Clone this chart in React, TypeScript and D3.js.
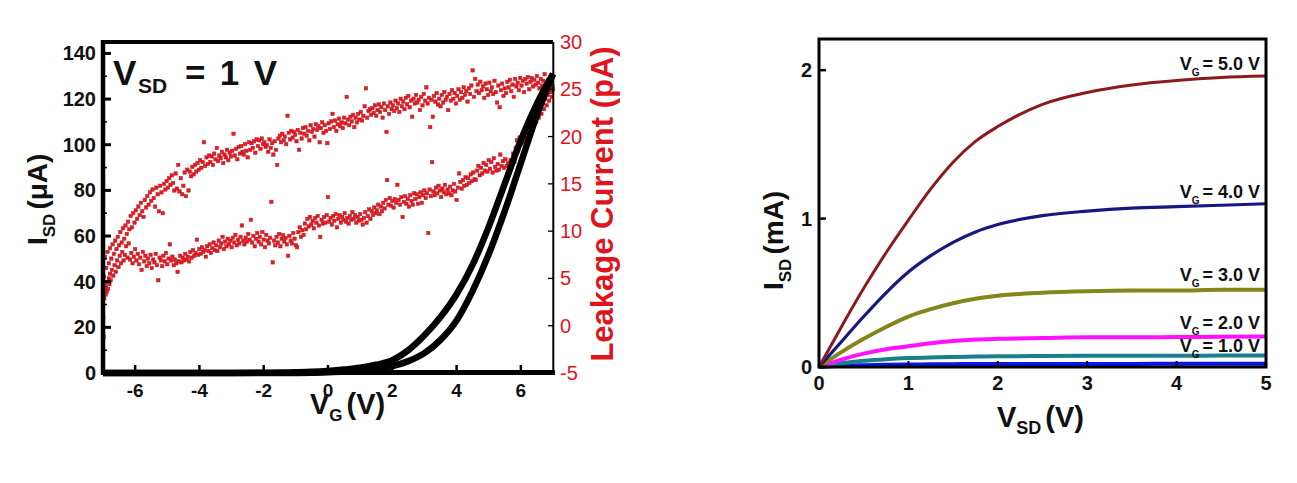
import React from "react";
import * as d3 from "d3";

// ---------- Left panel data ----------
const vgTicks = [-6, -4, -2, 0, 2, 4, 6];
const isdTicks = [0, 20, 40, 60, 80, 100, 120, 140];
const isdMinorTicks = [10, 30, 50, 70, 90, 110, 130];
const leakTicks = [-5, 0, 5, 10, 15, 20, 25, 30];

const vgSweep = [-7, -6, -5, -4, -3, -2, -1, -0.5, 0, 0.5, 1, 1.5, 2, 2.5, 3, 3.5, 4, 4.5, 5, 5.5, 6, 6.5, 7];
const isdForward = [0, 0, 0, 0, 0.05, 0.1, 0.3, 0.5, 0.9, 1.5, 2.3, 3.6, 5.6, 10, 16.5, 24.5, 34.5, 47.5, 64, 83, 102, 118, 131];
const isdReverse = [0, 0, 0, 0, 0, 0, 0.05, 0.1, 0.3, 0.6, 1.1, 1.8, 3, 5.2, 8.7, 14.5, 23, 36, 52, 71, 92, 113, 131];

const leakageUpper: [number, number][] = [
  [-7.0, 6.8], [-6.97, 5.2], [-6.94, 7.3], [-6.9, 6.1], [-6.86, 7.8], [-6.82, 6.6], [-6.78, 8.2], [-6.74, 7.1], [-6.7, 8.6], [-6.66, 7.6],
  [-6.62, 9.0], [-6.58, 8.1], [-6.54, 9.4], [-6.5, 8.5], [-6.46, 9.9], [-6.42, 8.8], [-6.38, 10.3], [-6.34, 9.2], [-6.3, 10.6], [-6.26, 9.7],
  [-6.22, 11.0], [-6.18, 10.2], [-6.14, 11.6], [-6.1, 10.4], [-6.06, 11.9], [-6.02, 10.9], [-5.98, 12.2], [-5.94, 11.3], [-5.9, 12.6], [-5.86, 11.7],
  [-5.82, 13.0], [-5.78, 12.1], [-5.74, 11.5], [-5.7, 13.3], [-5.66, 12.5], [-5.62, 13.7], [-5.58, 12.8], [-5.54, 14.1], [-5.5, 13.2], [-5.46, 14.4],
  [-5.42, 13.5], [-5.38, 12.6], [-5.34, 14.6], [-5.3, 13.9], [-5.26, 12.1], [-5.22, 14.8], [-5.18, 14.1], [-5.14, 11.9], [-5.1, 15.0], [-5.06, 14.4],
  [-5.02, 15.3], [-4.98, 14.6], [-4.94, 15.6], [-4.9, 14.9], [-4.86, 15.9], [-4.82, 15.1], [-4.78, 14.3], [-4.74, 16.1], [-4.7, 14.5], [-4.66, 17.0],
  [-4.62, 14.2], [-4.58, 15.6], [-4.54, 13.9], [-4.5, 14.8], [-4.46, 16.2], [-4.42, 13.7], [-4.38, 16.5], [-4.34, 14.3], [-4.3, 16.3], [-4.26, 15.8],
  [-4.22, 16.8], [-4.18, 16.0], [-4.14, 17.0], [-4.1, 16.3], [-4.06, 17.2], [-4.02, 16.5], [-3.98, 17.5], [-3.94, 16.7], [-3.9, 17.3], [-3.86, 19.4],
  [-3.82, 16.9], [-3.78, 17.8], [-3.74, 17.1], [-3.7, 18.0], [-3.66, 17.3], [-3.62, 17.9], [-3.58, 17.0], [-3.54, 18.2], [-3.5, 17.6], [-3.46, 18.8],
  [-3.42, 17.4], [-3.38, 18.0], [-3.34, 17.7], [-3.3, 18.4], [-3.26, 17.2], [-3.22, 18.1], [-3.18, 17.8], [-3.14, 18.6], [-3.1, 17.5], [-3.06, 18.3],
  [-3.02, 17.9], [-2.98, 18.5], [-2.94, 20.3], [-2.9, 18.0], [-2.86, 18.7], [-2.82, 17.6], [-2.78, 18.9], [-2.74, 18.2], [-2.7, 19.0], [-2.66, 18.4],
  [-2.62, 18.1], [-2.58, 19.2], [-2.54, 18.5], [-2.5, 17.8], [-2.46, 19.4], [-2.42, 18.6], [-2.38, 19.3], [-2.34, 18.8], [-2.3, 19.5], [-2.26, 18.3],
  [-2.22, 19.7], [-2.18, 19.0], [-2.14, 19.6], [-2.1, 18.7], [-2.06, 19.8], [-2.02, 19.2], [-1.98, 19.4], [-1.94, 18.9], [-1.9, 19.1], [-1.86, 18.4],
  [-1.82, 19.7], [-1.78, 18.8], [-1.74, 19.3], [-1.7, 18.1], [-1.66, 19.5], [-1.62, 18.6], [-1.58, 17.0], [-1.54, 19.8], [-1.5, 20.1], [-1.46, 19.4],
  [-1.42, 20.3], [-1.38, 19.6], [-1.34, 20.0], [-1.3, 19.2], [-1.26, 22.2], [-1.22, 20.4], [-1.18, 19.7], [-1.14, 20.6], [-1.1, 19.9], [-1.06, 20.5],
  [-1.02, 20.2], [-0.98, 19.5], [-0.94, 20.7], [-0.9, 18.6], [-0.86, 20.4], [-0.82, 19.8], [-0.78, 20.9], [-0.74, 20.3], [-0.7, 21.0], [-0.66, 20.1],
  [-0.62, 20.6], [-0.58, 19.6], [-0.54, 21.2], [-0.5, 20.5], [-0.46, 20.8], [-0.42, 20.0], [-0.38, 21.3], [-0.34, 20.7], [-0.3, 21.1], [-0.26, 19.4],
  [-0.22, 20.9], [-0.18, 21.5], [-0.14, 20.4], [-0.1, 21.2], [-0.06, 20.6], [-0.02, 19.3], [0.02, 21.4], [0.06, 20.8], [0.1, 21.6], [0.14, 22.4],
  [0.18, 21.0], [0.22, 21.7], [0.26, 20.6], [0.3, 21.3], [0.34, 21.9], [0.38, 21.1], [0.42, 21.5], [0.46, 20.9], [0.5, 22.0], [0.54, 21.4],
  [0.58, 24.2], [0.62, 21.8], [0.66, 21.2], [0.7, 22.1], [0.74, 21.6], [0.78, 22.3], [0.82, 21.0], [0.86, 22.0], [0.9, 21.5], [0.94, 22.4],
  [0.98, 21.8], [1.02, 22.6], [1.06, 21.7], [1.1, 22.2], [1.14, 23.2], [1.18, 25.1], [1.22, 22.0], [1.26, 22.7], [1.3, 22.9], [1.34, 22.3],
  [1.38, 23.0], [1.42, 22.5], [1.46, 23.3], [1.5, 22.2], [1.54, 22.8], [1.58, 23.4], [1.62, 22.6], [1.66, 23.1], [1.7, 22.0], [1.74, 23.5],
  [1.78, 22.8], [1.82, 20.5], [1.86, 23.2], [1.9, 22.4], [1.94, 23.6], [1.98, 22.9], [2.02, 23.3], [2.06, 22.7], [2.1, 23.8], [2.14, 23.0],
  [2.18, 23.5], [2.22, 22.6], [2.26, 24.0], [2.3, 23.2], [2.34, 23.7], [2.38, 22.9], [2.42, 24.1], [2.46, 23.4], [2.5, 24.3], [2.54, 23.1],
  [2.58, 23.8], [2.62, 22.1], [2.66, 24.0], [2.7, 23.5], [2.74, 24.4], [2.78, 23.6], [2.82, 23.9], [2.86, 22.8], [2.9, 24.2], [2.94, 23.3],
  [2.98, 24.5], [3.02, 23.8], [3.06, 25.2], [3.1, 23.5], [3.14, 24.1], [3.18, 21.0], [3.22, 23.9], [3.26, 22.1], [3.3, 24.3], [3.34, 23.7],
  [3.38, 24.6], [3.42, 23.4], [3.46, 24.0], [3.5, 23.2], [3.54, 24.4], [3.58, 23.6], [3.62, 24.7], [3.66, 23.9], [3.7, 24.2], [3.74, 22.8],
  [3.78, 24.5], [3.82, 23.8], [3.86, 24.9], [3.9, 24.0], [3.94, 24.6], [3.98, 23.5], [4.02, 24.3], [4.06, 25.0], [4.1, 23.9], [4.14, 24.7],
  [4.18, 24.1], [4.22, 25.2], [4.26, 24.4], [4.3, 24.8], [4.34, 23.7], [4.38, 25.1], [4.42, 24.5], [4.46, 25.4], [4.5, 27.0], [4.54, 24.2],
  [4.58, 26.1], [4.62, 24.8], [4.66, 25.5], [4.7, 24.6], [4.74, 25.8], [4.78, 24.9], [4.82, 25.3], [4.86, 24.1], [4.9, 25.6], [4.94, 25.0],
  [4.98, 24.4], [5.02, 25.7], [5.06, 24.8], [5.1, 25.2], [5.14, 24.5], [5.18, 25.9], [5.22, 24.7], [5.26, 23.6], [5.3, 25.4], [5.34, 23.1],
  [5.38, 24.9], [5.42, 25.6], [5.46, 24.3], [5.5, 25.1], [5.54, 24.6], [5.58, 25.8], [5.62, 25.2], [5.66, 26.0], [5.7, 24.8], [5.74, 25.5],
  [5.78, 24.2], [5.82, 26.1], [5.86, 25.3], [5.9, 25.7], [5.94, 24.9], [5.98, 26.2], [6.02, 25.4], [6.06, 25.9], [6.1, 24.7], [6.14, 26.1],
  [6.18, 25.6], [6.22, 26.3], [6.26, 25.0], [6.3, 25.8], [6.34, 26.2], [6.38, 25.3], [6.42, 26.0], [6.46, 25.5], [6.5, 26.4], [6.54, 25.7],
  [6.58, 25.1], [6.62, 26.1], [6.66, 25.4], [6.7, 25.9], [6.74, 26.6], [6.78, 25.6], [6.82, 25.2], [6.86, 26.0], [6.9, 25.5], [6.94, 24.8], [6.98, 25.3],
];

const leakageLower: [number, number][] = [
  [-6.99, 0.9], [-6.98, -1.2], [-7.0, 2.1], [-6.98, 3.5], [-6.96, 2.9], [-6.94, 4.2], [-6.92, 3.3], [-6.9, 4.0], [-6.88, 3.6], [-6.86, 4.6], [-6.84, 3.9],
  [-6.82, 5.0], [-6.8, 4.4], [-6.78, 5.5], [-6.76, 4.8], [-6.72, 5.9], [-6.68, 5.3], [-6.64, 6.4], [-6.6, 5.7], [-6.56, 6.9], [-6.52, 6.2],
  [-6.48, 7.4], [-6.44, 6.6], [-6.4, 7.8], [-6.36, 6.9], [-6.32, 7.5], [-6.28, 8.4], [-6.24, 7.2], [-6.2, 8.7], [-6.16, 7.0], [-6.12, 7.7],
  [-6.08, 6.6], [-6.04, 7.3], [-6.0, 8.1], [-5.96, 6.9], [-5.92, 7.6], [-5.88, 6.5], [-5.84, 7.2], [-5.8, 5.9], [-5.76, 7.8], [-5.72, 6.8],
  [-5.68, 7.4], [-5.64, 6.3], [-5.6, 7.1], [-5.56, 6.6], [-5.52, 7.5], [-5.48, 6.1], [-5.44, 7.0], [-5.4, 6.7], [-5.36, 7.6], [-5.32, 6.4],
  [-5.28, 4.8], [-5.24, 7.2], [-5.2, 6.9], [-5.16, 6.3], [-5.12, 7.4], [-5.08, 6.8], [-5.04, 7.7], [-5.0, 6.5], [-4.96, 7.1], [-4.92, 8.6],
  [-4.88, 6.9], [-4.84, 7.3], [-4.8, 6.4], [-4.76, 7.0], [-4.72, 6.6], [-4.68, 5.7], [-4.64, 6.8], [-4.6, 7.4], [-4.56, 6.7], [-4.52, 7.2],
  [-4.48, 6.9], [-4.44, 7.6], [-4.4, 7.0], [-4.36, 7.3], [-4.32, 6.8], [-4.28, 7.8], [-4.24, 7.2], [-4.2, 8.0], [-4.16, 7.4], [-4.12, 7.7],
  [-4.08, 9.1], [-4.04, 7.5], [-4.0, 8.1], [-3.96, 7.6], [-3.92, 8.3], [-3.88, 7.8], [-3.84, 8.0], [-3.8, 7.3], [-3.76, 8.4], [-3.72, 7.9],
  [-3.68, 8.6], [-3.64, 7.7], [-3.6, 8.2], [-3.56, 8.8], [-3.52, 8.0], [-3.48, 8.5], [-3.44, 7.9], [-3.4, 9.0], [-3.36, 8.3], [-3.32, 8.7],
  [-3.28, 9.4], [-3.24, 8.1], [-3.2, 8.9], [-3.16, 8.4], [-3.12, 9.2], [-3.08, 8.6], [-3.04, 9.0], [-3.0, 8.3], [-2.96, 9.3], [-2.92, 8.8],
  [-2.88, 9.6], [-2.84, 8.5], [-2.8, 9.1], [-2.76, 8.7], [-2.72, 9.4], [-2.68, 10.6], [-2.64, 9.0], [-2.6, 8.6], [-2.56, 9.3], [-2.52, 8.9],
  [-2.48, 9.7], [-2.44, 9.1], [-2.4, 11.2], [-2.36, 8.8], [-2.32, 9.5], [-2.28, 8.4], [-2.24, 9.2], [-2.2, 9.8], [-2.16, 8.9], [-2.12, 9.4],
  [-2.08, 8.6], [-2.04, 9.9], [-2.0, 9.1], [-1.96, 8.3], [-1.92, 9.6], [-1.88, 9.0], [-1.84, 8.7], [-1.8, 9.3], [-1.76, 13.1], [-1.72, 6.7],
  [-1.68, 9.0], [-1.64, 8.5], [-1.6, 9.4], [-1.56, 8.8], [-1.52, 9.7], [-1.48, 8.4], [-1.44, 9.2], [-1.4, 9.6], [-1.36, 8.9], [-1.32, 9.3],
  [-1.28, 8.6], [-1.24, 7.4], [-1.2, 9.5], [-1.16, 9.0], [-1.12, 8.7], [-1.08, 9.8], [-1.04, 9.2], [-1.0, 8.5], [-0.96, 8.3], [-0.92, 9.9],
  [-0.88, 10.4], [-0.84, 9.4], [-0.8, 10.1], [-0.76, 9.6], [-0.72, 10.8], [-0.68, 10.2], [-0.64, 11.3], [-0.6, 10.5], [-0.56, 11.5], [-0.52, 10.7],
  [-0.48, 11.1], [-0.44, 10.3], [-0.4, 11.4], [-0.36, 10.9], [-0.32, 11.6], [-0.28, 10.6], [-0.24, 9.4], [-0.2, 11.2], [-0.16, 10.8], [-0.12, 11.5],
  [-0.08, 10.9], [-0.04, 11.7], [0.0, 13.6], [0.04, 11.0], [0.08, 11.4], [0.12, 10.7], [0.16, 11.6], [0.2, 11.1], [0.24, 11.8], [0.28, 10.4],
  [0.32, 11.3], [0.36, 11.7], [0.4, 10.9], [0.44, 11.5], [0.48, 11.2], [0.52, 11.9], [0.56, 11.0], [0.6, 11.4], [0.64, 10.8], [0.68, 11.6],
  [0.72, 11.2], [0.76, 12.0], [0.8, 11.3], [0.84, 11.7], [0.88, 10.9], [0.92, 11.5], [0.96, 11.1], [1.0, 11.8], [1.04, 11.2], [1.08, 10.7],
  [1.12, 11.4], [1.16, 12.0], [1.2, 10.9], [1.24, 11.6], [1.28, 12.3], [1.32, 11.3], [1.36, 12.1], [1.4, 11.7], [1.44, 12.5], [1.48, 11.9],
  [1.52, 12.2], [1.56, 12.8], [1.6, 11.8], [1.64, 12.6], [1.68, 12.1], [1.72, 13.0], [1.76, 12.4], [1.8, 13.3], [1.84, 15.4], [1.88, 12.8],
  [1.92, 13.5], [1.96, 12.7], [2.0, 13.2], [2.04, 12.5], [2.08, 13.4], [2.12, 13.0], [2.16, 14.9], [2.2, 13.3], [2.24, 12.8], [2.28, 13.6],
  [2.32, 11.5], [2.36, 13.1], [2.4, 13.7], [2.44, 12.9], [2.48, 13.4], [2.52, 12.6], [2.56, 13.8], [2.6, 13.2], [2.64, 12.8], [2.68, 14.0],
  [2.72, 13.4], [2.76, 13.9], [2.8, 12.9], [2.84, 13.6], [2.88, 14.1], [2.92, 13.0], [2.96, 13.8], [3.0, 14.3], [3.04, 13.5], [3.08, 14.0],
  [3.12, 9.8], [3.16, 14.4], [3.2, 13.7], [3.24, 17.3], [3.28, 14.2], [3.32, 13.8], [3.36, 14.6], [3.4, 14.0], [3.44, 14.8], [3.48, 14.3],
  [3.52, 13.6], [3.56, 14.5], [3.6, 14.1], [3.64, 14.9], [3.68, 13.9], [3.72, 14.4], [3.76, 14.0], [3.8, 14.7], [3.84, 13.8], [3.88, 14.3],
  [3.92, 15.0], [3.96, 14.2], [4.0, 13.3], [4.04, 14.6], [4.08, 16.1], [4.12, 15.2], [4.16, 14.5], [4.2, 15.4], [4.24, 14.8], [4.28, 15.7],
  [4.32, 14.9], [4.36, 15.6], [4.4, 15.1], [4.44, 16.0], [4.48, 15.3], [4.52, 16.2], [4.56, 15.5], [4.6, 15.4], [4.64, 16.4], [4.68, 16.9],
  [4.72, 15.9], [4.76, 16.7], [4.8, 16.1], [4.84, 17.2], [4.88, 16.4], [4.92, 17.0], [4.96, 16.3], [5.0, 17.5], [5.04, 16.6], [5.08, 17.3],
  [5.12, 16.2], [5.16, 17.7], [5.2, 16.8], [5.24, 16.4], [5.28, 17.1], [5.32, 16.5], [5.36, 18.1], [5.4, 16.9], [5.44, 17.4], [5.48, 16.7],
  [5.52, 17.6], [5.56, 16.9], [5.6, 17.2], [5.64, 16.6], [5.68, 17.5], [5.72, 16.8], [5.76, 18.2], [5.8, 17.3], [5.84, 18.8], [5.88, 19.6],
  [5.92, 18.5], [5.96, 19.9], [6.0, 19.2], [6.04, 20.1], [6.08, 19.4], [6.12, 20.5], [6.16, 19.8], [6.2, 21.0], [6.24, 20.3], [6.28, 21.4],
  [6.32, 20.7], [6.36, 21.9], [6.4, 21.2], [6.44, 22.3], [6.48, 21.6], [6.52, 22.7], [6.56, 22.0], [6.6, 23.1], [6.64, 22.4], [6.68, 23.5],
  [6.72, 22.9], [6.76, 24.0], [6.8, 23.3], [6.84, 24.4], [6.88, 23.8], [6.92, 24.7], [6.96, 24.2], [7.0, 25.0],
];

// ---------- Right panel data ----------
const vsdTicks = [0, 1, 2, 3, 4, 5];
const idTicks = [0, 1, 2];
const vsd = [0, 0.25, 0.5, 0.75, 1, 1.25, 1.5, 1.75, 2, 2.5, 3, 3.5, 4, 4.5, 5];
const idVg5 = [0, 0.27, 0.53, 0.77, 0.99, 1.2, 1.38, 1.52, 1.62, 1.77, 1.85, 1.9, 1.93, 1.95, 1.96];
const idVg4 = [0, 0.17, 0.34, 0.5, 0.64, 0.75, 0.84, 0.91, 0.96, 1.02, 1.05, 1.07, 1.08, 1.09, 1.1];
const idVg3 = [0, 0.1, 0.19, 0.27, 0.34, 0.39, 0.43, 0.46, 0.48, 0.5, 0.51, 0.515, 0.515, 0.52, 0.52];
const idVg2 = [0, 0.05, 0.09, 0.12, 0.14, 0.16, 0.175, 0.185, 0.19, 0.195, 0.2, 0.2, 0.202, 0.203, 0.205];
const idVg1 = [0, 0.025, 0.042, 0.053, 0.06, 0.064, 0.068, 0.07, 0.072, 0.074, 0.075, 0.076, 0.076, 0.077, 0.077];
const idVg0 = [0, 0.008, 0.012, 0.015, 0.017, 0.018, 0.019, 0.02, 0.02, 0.021, 0.021, 0.021, 0.022, 0.022, 0.022];
const idVgOff = [0, 0.001, 0.001, 0.002, 0.002, 0.002, 0.002, 0.002, 0.002, 0.002, 0.002, 0.002, 0.002, 0.002, 0.002];
const vgLabels = ["5.0", "4.0", "3.0", "2.0", "1.0", "", ""];

const outSeries = [
  { values: idVg5, color: "#8b1a1f", width: 3 },
  { values: idVg4, color: "#16187f", width: 3.2 },
  { values: idVg3, color: "#85851a", width: 4 },
  { values: idVg2, color: "#ff10ff", width: 4 },
  { values: idVg1, color: "#18808a", width: 4 },
  { values: idVg0, color: "#0a14f0", width: 4 },
  { values: idVgOff, color: "#c8101a", width: 1.5 },
];
const labelDy = [-6, -6, -9, -8, -4, 0, 0];

const FONT = "Arial, 'Liberation Sans', sans-serif";

export default function App() {
  // left panel scales
  const xL = d3.scaleLinear().domain([-7, 7]).range([103, 553]);
  const yL = d3.scaleLinear().domain([0, 145]).range([373, 42]);
  const yLeak = d3.scaleLinear().domain([-5, 30]).range([373, 42]);

  // right panel scales
  const xR = d3.scaleLinear().domain([0, 5]).range([819, 1266]);
  const yRt = d3.scaleLinear().domain([0, 2.21]).range([367, 39]);

  const transfer = d3
    .line<number>()
    .x((_, i) => xL(vgSweep[i]))
    .y((d) => yL(d))
    .curve(d3.curveMonotoneX);

  const output = d3
    .line<number>()
    .x((_, i) => xR(vsd[i]))
    .y((d) => yRt(d))
    .curve(d3.curveMonotoneX);

  const sq = 3.4;
  const leakAll = [...leakageUpper, ...leakageLower];

  return (
    <svg
      width={1297}
      height={483}
      style={{ position: "absolute", left: 0, top: 0, background: "#fff" }}
      fontFamily={FONT}
    >
      <rect x={0} y={0} width={1297} height={483} fill="#fff" />

      {/* ===== Left panel ===== */}
      <g>
        {leakAll.map(([v, c], i) => (
          <rect
            key={"lk" + i}
            x={xL(v) - sq / 2}
            y={yLeak(c) - sq / 2}
            width={sq}
            height={sq}
            fill="#f01818"
            stroke="#a81e2e"
            strokeWidth={0.5}
          />
        ))}
        <path d={transfer(isdForward) || ""} fill="none" stroke="#000" strokeWidth={6.5} />
        <path d={transfer(isdReverse) || ""} fill="none" stroke="#000" strokeWidth={6.5} />

        {/* frame */}
        <line x1={103} x2={553} y1={42} y2={42} stroke="#000" strokeWidth={4} />
        <line x1={553.3} x2={553.3} y1={42} y2={373} stroke="#000" strokeWidth={2} />
        <line x1={103} x2={103} y1={40} y2={375} stroke="#000" strokeWidth={4.5} />
        <line x1={101} x2={555} y1={372.5} y2={372.5} stroke="#000" strokeWidth={5} />

        {/* left y ticks */}
        {isdTicks.map((t) => (
          <g key={"ly" + t}>
            <line x1={103} x2={111} y1={yL(t)} y2={yL(t)} stroke="#000" strokeWidth={3} />
            <text x={96} y={yL(t) + 7} textAnchor="end" fontSize={20} fontWeight="bold" fill="#111">
              {t}
            </text>
          </g>
        ))}
        {isdMinorTicks.map((t) => (
          <line key={"lym" + t} x1={103} x2={107} y1={yL(t)} y2={yL(t)} stroke="#000" strokeWidth={1.5} />
        ))}

        {/* x ticks */}
        {vgTicks.map((t) => (
          <g key={"lx" + t}>
            <line x1={xL(t)} x2={xL(t)} y1={372} y2={365} stroke="#000" strokeWidth={2.5} />
            <text x={xL(t)} y={397} textAnchor="middle" fontSize={19} fontWeight="bold" fill="#111">
              {t}
            </text>
          </g>
        ))}

        {/* right leakage ticks */}
        {leakTicks.map((t) => (
          <g key={"lr" + t}>
            <line x1={553} x2={548} y1={yLeak(t)} y2={yLeak(t)} stroke="#000" strokeWidth={1.3} />
            <text x={560} y={yLeak(t) + 7} textAnchor="start" fontSize={20} fill="#e0141c">
              {t}
            </text>
          </g>
        ))}

        {/* annotation */}
        <text x={113} y={85} fontSize={35} fontWeight="bold" fill="#111">
          V
        </text>
        <text x={138} y={93} fontSize={21} fontWeight="bold" fill="#111">
          SD
        </text>
        <text x={185} y={85} fontSize={35} fontWeight="bold" fill="#111" textLength={92} lengthAdjust="spacing">
          = 1 V
        </text>

        {/* axis titles */}
        <text x={310} y={414} fontSize={29} fontWeight="bold" fill="#111">
          V
          <tspan fontSize={17} dy={7}>G</tspan>
          <tspan dy={-7} dx={4}>(V)</tspan>
        </text>
        <text transform="translate(47,245) rotate(-90)" fontSize={28} fontWeight="bold" fill="#111">
          I
          <tspan fontSize={17} dy={8}>SD</tspan>
          <tspan dy={-8} dx={4}>(μA)</tspan>
        </text>
        <text
          transform="translate(613,204) rotate(-90)"
          textAnchor="middle"
          fontSize={31}
          fontWeight="bold"
          fill="#e0141c"
        >
          Leakage Current (pA)
        </text>
      </g>

      {/* ===== Right panel ===== */}
      <g>
        {outSeries
          .slice()
          .reverse()
          .map((s, i) => (
            <path
              key={"os" + i}
              d={output(s.values) || ""}
              fill="none"
              stroke={s.color}
              strokeWidth={s.width}
            />
          ))}

        {outSeries.map((s, i) =>
          vgLabels[i] ? (
            <text
              key={"vl" + i}
              x={xR(5) - 6}
              y={yRt(s.values[s.values.length - 1]) + labelDy[i]}
              textAnchor="end"
              fontSize={18}
              fontWeight="bold"
              fill="#111"
            >
              V
              <tspan fontSize={10} dy={6}>G</tspan>
              <tspan dy={-6} dx={3}>{`= ${vgLabels[i]} V`}</tspan>
            </text>
          ) : null
        )}

        {/* frame */}
        <rect x={819} y={39} width={447} height={328} fill="none" stroke="#000" strokeWidth={3} />

        {idTicks.map((t) => (
          <g key={"ry" + t}>
            <line x1={819} x2={826} y1={yRt(t)} y2={yRt(t)} stroke="#000" strokeWidth={2.5} />
            <text x={812} y={yRt(t) + 7} textAnchor="end" fontSize={20} fontWeight="bold" fill="#111">
              {t}
            </text>
          </g>
        ))}
        {vsdTicks.map((t) => (
          <g key={"rx" + t}>
            <line x1={xR(t)} x2={xR(t)} y1={367} y2={361} stroke="#000" strokeWidth={2} />
            <text x={xR(t)} y={390} textAnchor="middle" fontSize={20} fontWeight="bold" fill="#111">
              {t}
            </text>
          </g>
        ))}

        <text x={997} y={427} fontSize={29} fontWeight="bold" fill="#111">
          V
          <tspan fontSize={18} dy={7}>SD</tspan>
          <tspan dy={-7} dx={4}>(V)</tspan>
        </text>
        <text transform="translate(783,290) rotate(-90)" fontSize={28} fontWeight="bold" fill="#111">
          I
          <tspan fontSize={17} dy={8}>SD</tspan>
          <tspan dy={-8} dx={4}>(mA)</tspan>
        </text>
      </g>
    </svg>
  );
}
